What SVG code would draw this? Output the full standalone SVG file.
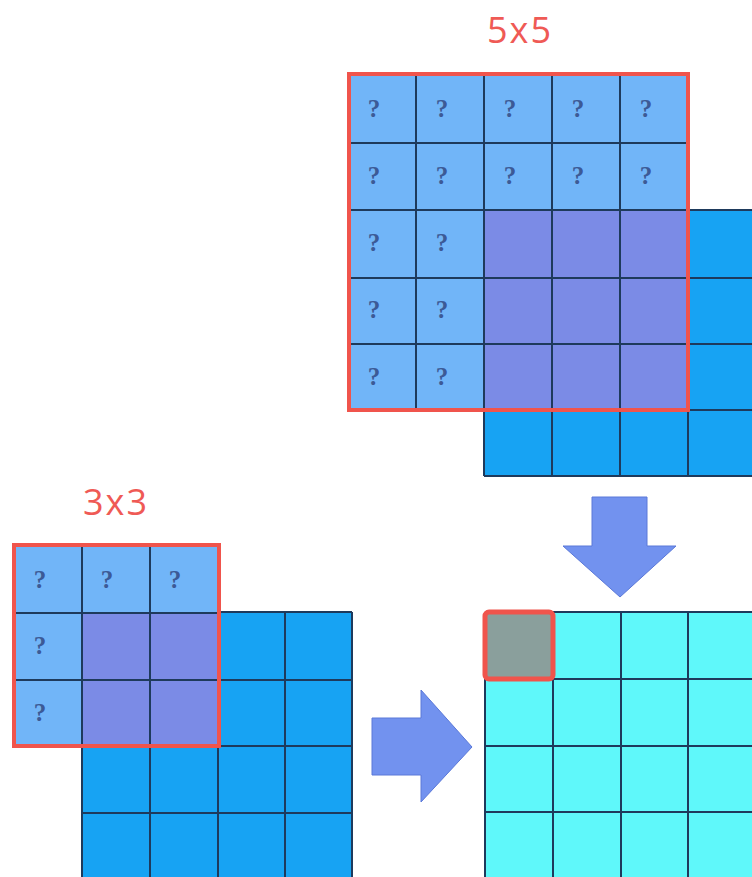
<svg xmlns="http://www.w3.org/2000/svg" width="752" height="877" viewBox="0 0 752 877">
<style>
.lbl{font-family:"Open Sans","Liberation Sans",sans-serif;font-size:36px;fill:#ef5a55;text-anchor:middle;letter-spacing:2px}
.q{font-family:"Liberation Serif","DejaVu Serif",serif;font-size:25px;font-weight:bold;fill:#3c5a96;text-anchor:middle}
.grid{stroke:#1e3a5c;stroke-width:2;fill:none}
.red{stroke:#f0544c;stroke-width:4;fill:none}
.arrow{fill:#7292ef;stroke:#5a78d8;stroke-width:1}
</style>
<rect width="752" height="877" fill="#ffffff"/>

<g id="input-top">
<rect x="484" y="210" width="272" height="266" fill="#17a3f3"/>
<path class="grid" d="M484 210V476M552 210V476M620 210V476M688 210V476M484 210H756M484 278H756M484 344H756M484 410H756M484 476H756"/>
</g>

<g id="kernel-5x5">
<rect x="348" y="73" width="340" height="337" fill="#71b5f8"/>
<rect x="484" y="210" width="204" height="200" fill="#7b8be6"/>
<path class="grid" d="M416 73V410M484 73V410M552 73V410M620 73V410M348 143H688M348 210H688M348 278H688M348 344H688"/>
<rect class="red" x="349" y="74" width="339" height="336"/>
<text class="q" x="374" y="117">?</text><text class="q" x="442" y="117">?</text><text class="q" x="510" y="117">?</text><text class="q" x="578" y="117">?</text><text class="q" x="646" y="117">?</text>
<text class="q" x="374" y="184">?</text><text class="q" x="442" y="184">?</text><text class="q" x="510" y="184">?</text><text class="q" x="578" y="184">?</text><text class="q" x="646" y="184">?</text>
<text class="q" x="374" y="251">?</text><text class="q" x="442" y="251">?</text>
<text class="q" x="374" y="318">?</text><text class="q" x="442" y="318">?</text>
<text class="q" x="374" y="385">?</text><text class="q" x="442" y="385">?</text>
<text class="lbl" x="520" y="43">5x5</text>
</g>

<g id="input-bottom">
<rect x="82" y="612" width="270" height="270" fill="#17a3f3"/>
<path class="grid" d="M82 612V877M150 612V877M218 612V877M285 612V877M352 612V877M82 612H352M82 680H352M82 746H352M82 813H352"/>
</g>

<g id="kernel-3x3">
<rect x="14" y="545" width="205" height="201" fill="#71b5f8"/>
<rect x="82" y="612" width="137" height="134" fill="#7b8be6"/>
<path class="grid" d="M82 545V746M150 545V746M14 613H219M14 680H219"/>
<rect class="red" x="14" y="545" width="205" height="201"/>
<text class="q" x="40" y="588">?</text><text class="q" x="107" y="588">?</text><text class="q" x="175" y="588">?</text>
<text class="q" x="40" y="654">?</text>
<text class="q" x="40" y="721">?</text>
<text class="lbl" x="116" y="515">3x3</text>
</g>

<g id="output">
<rect x="485" y="612" width="271" height="270" fill="#5ff8fa"/>
<path class="grid" d="M485 612V877M553 612V877M621 612V877M688 612V877M485 612H756M485 679H756M485 746H756M485 812H756"/>
<rect x="485" y="612" width="68" height="67" rx="4" fill="#8a9f9c" stroke="#f0544c" stroke-width="5"/>
</g>

<g id="connectors">
<polygon class="arrow" points="372,718 421,718 421,690 472,747 421,802 421,775 372,775"/>
<polygon class="arrow" points="592,497 647,497 647,546 676,546 620,597 563,546 592,546"/>
</g>
</svg>
